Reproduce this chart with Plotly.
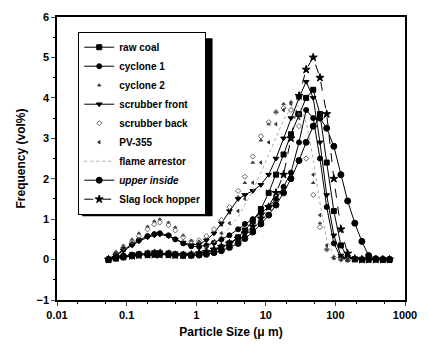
import plotly.graph_objects as go

size_um = [0.055, 0.07, 0.09, 0.12, 0.15, 0.2, 0.25, 0.3, 0.4, 0.5, 0.65, 0.85, 1.1, 1.4, 1.8,
           2.3, 3, 4, 5, 6.5, 8.5, 11, 14, 18, 23, 30, 38, 48, 60, 75, 95, 120, 150, 190,
           240, 300, 380, 480, 600]

raw_coal = [0.0, 0.04, 0.08, 0.11, 0.13, 0.15, 0.16, 0.16, 0.15, 0.13, 0.12, 0.12, 0.14, 0.17, 0.22,
            0.3, 0.4, 0.55, 0.72, 0.95, 1.25, 1.65, 2.1, 2.6, 3.1, 3.6, 4.0, 4.2, 3.6, 2.4, 1.2, 0.35,
            0.05, 0.01, 0.0, 0.0, 0.0, 0.0, 0.0]
cyclone_1 = [0.0, 0.12, 0.25, 0.38, 0.48, 0.58, 0.63, 0.65, 0.6, 0.5, 0.4, 0.33, 0.32, 0.35, 0.42,
             0.5, 0.6, 0.75, 0.88, 1.0, 1.15, 1.3, 1.5, 1.8, 2.15, 2.9, 3.7, 3.5, 2.5, 1.3, 0.4, 0.05,
             0.0, 0.0, 0.0, 0.0, 0.0, 0.0, 0.0]
cyclone_2 = [0.05, 0.2, 0.35, 0.5, 0.65, 0.82, 0.95, 1.0, 0.92, 0.8, 0.6, 0.47, 0.45, 0.5, 0.65,
             0.85, 1.15, 1.55, 1.9, 2.4, 2.95, 3.35, 3.65, 3.85, 3.9, 3.6, 2.9, 1.9, 0.9, 0.25, 0.03,
             0.0, 0.0, 0.0, 0.0, 0.0, 0.0, 0.0, 0.0]
scrubber_front = [0.0, 0.1, 0.22, 0.35, 0.45, 0.55, 0.6, 0.62, 0.58, 0.5, 0.42, 0.36, 0.38, 0.48, 0.65,
                  0.9, 1.2, 1.5, 1.6, 1.7, 1.85, 2.1, 2.5, 3.0, 3.5, 4.0, 4.4, 4.0, 2.9, 1.6, 0.6, 0.1,
                  0.0, 0.0, 0.0, 0.0, 0.0, 0.0, 0.0]
scrubber_back = [0.03, 0.17, 0.3, 0.45, 0.58, 0.75, 0.87, 0.92, 0.85, 0.72, 0.55, 0.45, 0.48, 0.58, 0.75,
                 0.98, 1.3, 1.7, 2.05, 2.55, 3.05, 3.4, 3.65, 3.75, 3.7, 3.3, 2.5, 1.6, 0.8, 0.25, 0.05,
                 0.0, 0.0, 0.0, 0.0, 0.0, 0.0, 0.0, 0.0]
pv_355 = [0.0, 0.05, 0.1, 0.14, 0.17, 0.2, 0.22, 0.22, 0.2, 0.17, 0.15, 0.16, 0.2, 0.3, 0.45,
          0.65, 0.9, 1.2, 1.5, 1.9, 2.4, 2.9, 3.35, 3.7, 3.85, 3.5, 2.9, 2.1, 1.1, 0.35, 0.05, 0.0,
          0.0, 0.0, 0.0, 0.0, 0.0, 0.0, 0.0]
flame_arrestor = [0.0, 0.04, 0.08, 0.12, 0.14, 0.16, 0.17, 0.17, 0.16, 0.15, 0.15, 0.17, 0.22, 0.3, 0.42,
                  0.58, 0.8, 1.05, 1.35, 1.7, 2.15, 2.6, 3.05, 3.45, 3.75, 3.8, 3.4, 2.5, 1.4, 0.5, 0.1,
                  0.0, 0.0, 0.0, 0.0, 0.0, 0.0, 0.0, 0.0]
upper_inside = [0.0, 0.03, 0.06, 0.09, 0.11, 0.12, 0.13, 0.13, 0.12, 0.11, 0.1, 0.1, 0.11, 0.13, 0.17,
                0.22, 0.3, 0.4, 0.52, 0.68, 0.88, 1.1, 1.35, 1.65, 2.0, 2.45, 2.9, 3.3, 3.5, 3.25, 2.8,
                2.1, 1.45, 0.9, 0.45, 0.1, 0.02, 0.0, 0.0]
slag_lock_hopper = [0.0, 0.04, 0.07, 0.09, 0.11, 0.12, 0.12, 0.12, 0.12, 0.11, 0.11, 0.12, 0.15, 0.19, 0.25,
                    0.32, 0.4, 0.52, 0.65, 0.82, 1.02, 1.3, 1.65, 2.1, 3.0, 4.05, 4.7, 5.0, 4.5, 3.6, 2.0,
                    0.75, 0.15, 0.02, 0.0, 0.0, 0.0, 0.0, 0.0]

x_tickvals = [0.01, 0.1, 1, 10, 100, 1000]
x_ticktext = ["0.01", "0.1", "1", "10", "100", "1000"]
y_tickvals = [-1, 0, 1, 2, 3, 4, 5, 6]

series = [
    ("raw coal", raw_coal, "square", 5, "black", "solid", "lines+markers"),
    ("cyclone 1", cyclone_1, "circle", 5, "black", "solid", "lines+markers"),
    ("cyclone 2", cyclone_2, "triangle-up", 3, "#444444", "dot", "markers"),
    ("scrubber front", scrubber_front, "triangle-down", 5, "black", "solid", "lines+markers"),
    ("scrubber back", scrubber_back, "diamond-open", 4, "#666666", "dot", "markers"),
    ("PV-355", pv_355, "triangle-left", 3, "#333333", "dot", "markers"),
    ("flame arrestor", flame_arrestor, "circle", 1, "#aaaaaa", "dot", "lines"),
    ("<i>upper inside</i>", upper_inside, "circle", 6, "black", "solid", "lines+markers"),
    ("Slag lock hopper", slag_lock_hopper, "star", 6, "black", "dash", "lines+markers"),
]

fig = go.Figure()
for name, vals, sym, ms, col, dash, mode in series:
    fig.add_trace(go.Scatter(
        x=size_um, y=vals, name=name, mode=mode,
        marker=dict(symbol=sym, size=ms, color=col, line=dict(color=col, width=1)),
        line=dict(color=col, width=1, dash=dash),
    ))

font_main = dict(family="Liberation Sans, Arial, sans-serif", size=11, color="black", weight="bold")

# legend drop shadow (offset dark rectangle behind the white legend box)
fig.add_shape(type="rect", xref="paper", yref="paper",
              x0=0.072, x1=0.447, y0=0.296, y1=0.925,
              fillcolor="black", line=dict(width=0), layer="above")

fig.update_layout(
    width=428, height=351,
    margin=dict(l=57, r=11, t=12, b=51),
    paper_bgcolor="white", plot_bgcolor="white",
    font=font_main,
    showlegend=True,
    legend=dict(x=0.061, y=0.948, xanchor="left", yanchor="top",
                bgcolor="white", bordercolor="black", borderwidth=1,
                font=dict(family="Liberation Sans, Arial, sans-serif", size=10, color="black", weight="bold"),
                itemwidth=30, tracegroupgap=0),
    xaxis=dict(type="log", range=[-2, 3], tickvals=x_tickvals, ticktext=x_ticktext,
               ticks="outside", ticklen=4, tickwidth=1, showline=True, linecolor="black", linewidth=1.5,
               mirror=True, showgrid=False, zeroline=False,
               minor=dict(ticks="outside", ticklen=2, tickcolor="black", showgrid=False),
               title=dict(text="Particle Size (μ m)", standoff=8,
                          font=dict(size=12, weight="bold"))),
    yaxis=dict(range=[-1, 6], tickvals=y_tickvals,
               ticks="outside", ticklen=4, tickwidth=1, showline=True, linecolor="black", linewidth=1.5,
               mirror=True, showgrid=False, zeroline=False,
               minor=dict(ticks="outside", ticklen=2, dtick=0.5, tickcolor="black", showgrid=False),
               title=dict(text="Frequency (vol%)", standoff=8,
                          font=dict(size=12, weight="bold"))),
)

fig.write_html("out.html")
